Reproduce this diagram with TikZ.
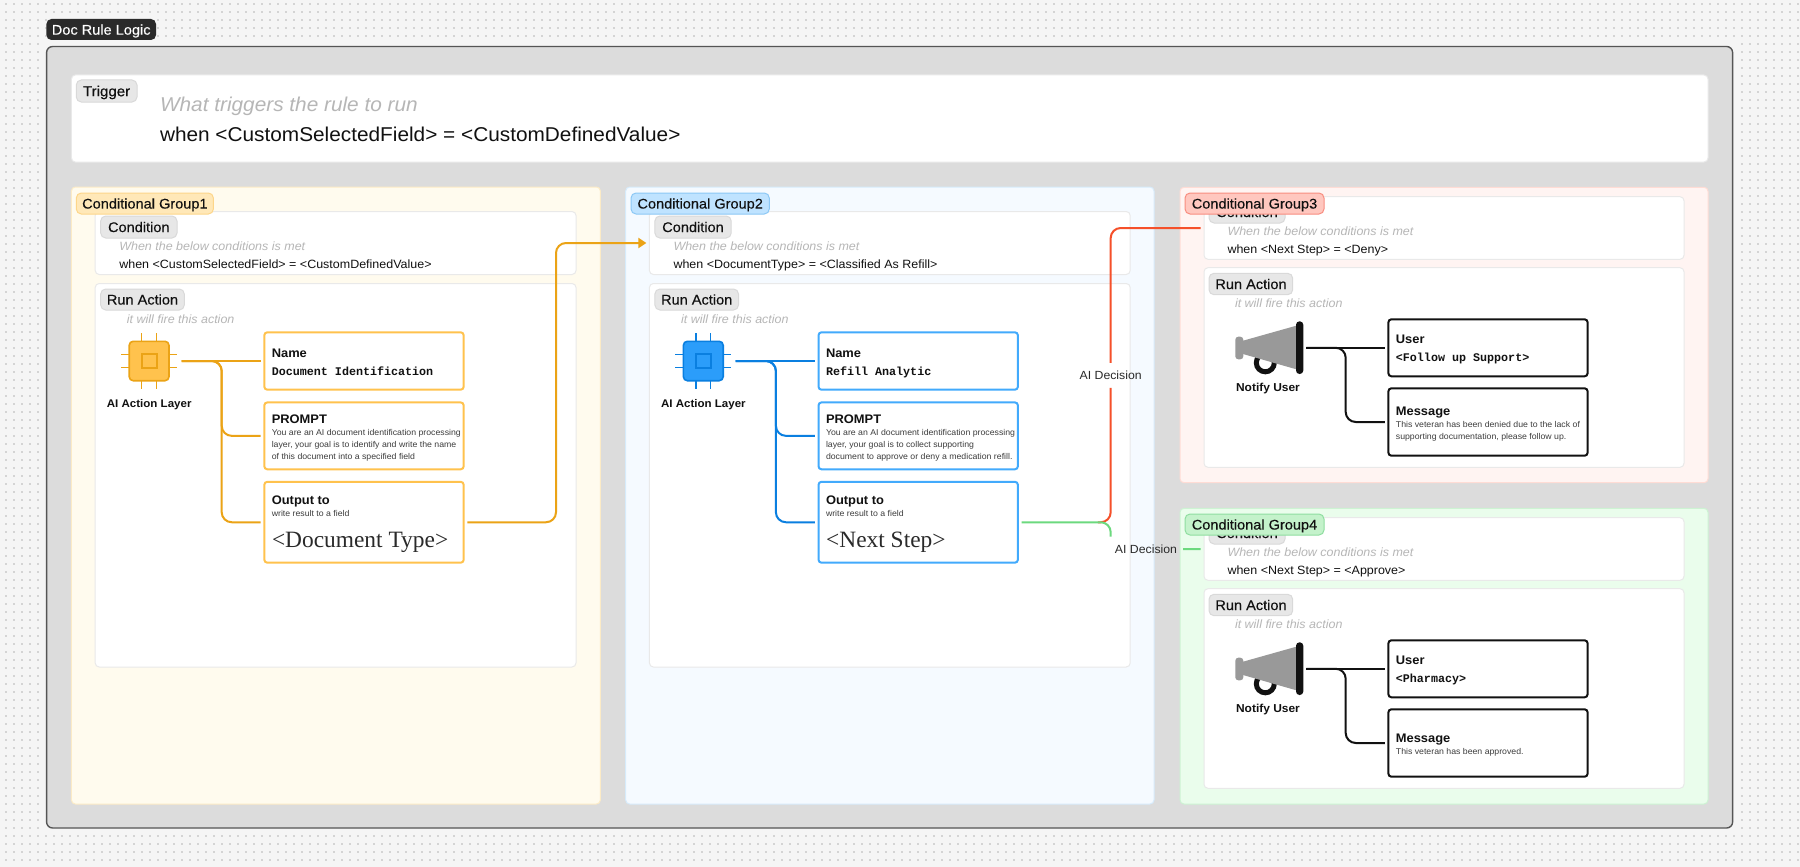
\documentclass[tikz,border=0pt]{standalone}
\usepackage{fontspec}
\setmainfont[FakeStretch=1.04]{Liberation Sans}
\setmonofont{Liberation Mono}
\newfontfamily\noteserif{Liberation Serif}
\newfontfamily\medfont[FakeStretch=1.04,FakeBold=0.3]{Liberation Sans}
\usetikzlibrary{arrows.meta,calc}
\definecolor{paper}{HTML}{F5F5F5}
\definecolor{dotc}{HTML}{D4D4D4}
\definecolor{frameg}{HTML}{DCDCDC}
\definecolor{frameline}{HTML}{555555}
\definecolor{softline}{HTML}{E9E9E9}
\definecolor{tagfill}{HTML}{E7E7E7}
\definecolor{tagline}{HTML}{D9D9D9}
\definecolor{hint}{HTML}{B6B6B6}
\definecolor{ink}{HTML}{111111}
\definecolor{dark}{HTML}{2A2A2A}
\definecolor{bodyt}{HTML}{3C3C3C}
\definecolor{yfill}{HTML}{FFFBEE}\definecolor{yline}{HTML}{FCEBC6}\definecolor{ytag}{HTML}{FFE8B8}\definecolor{ytagl}{HTML}{FDD68A}
\definecolor{yconn}{HTML}{EBA316}\definecolor{ybody}{HTML}{FFC24D}
\definecolor{bfill}{HTML}{F5FAFF}\definecolor{bline}{HTML}{D6EBFB}\definecolor{btag}{HTML}{BFE3FF}\definecolor{btagl}{HTML}{8CC8F5}
\definecolor{bconn}{HTML}{0A7FE0}\definecolor{bbody}{HTML}{2B9DFA}\definecolor{bbox}{HTML}{42AAFC}
\definecolor{rfill}{HTML}{FFF4F2}\definecolor{rline}{HTML}{FFDCD5}\definecolor{rtag}{HTML}{FFC7BF}\definecolor{rtagl}{HTML}{F88D80}\definecolor{rconn}{HTML}{F5502A}
\definecolor{gfill}{HTML}{EAFDEC}\definecolor{gline}{HTML}{CDF3D3}\definecolor{gtag}{HTML}{C4F2CB}\definecolor{gtagl}{HTML}{8FDEA0}\definecolor{gconn}{HTML}{6CD97E}
\definecolor{cone}{HTML}{999999}
\tikzset{
 x=1pt,y=-1pt,
 every node/.style={inner sep=0pt,outer sep=0pt,text=ink},
 panel/.style={rounded corners=4pt,draw=softline,fill=white,line width=1pt},
 grouppanel/.style={rounded corners=4pt,line width=1pt},
 labeltag/.style={rounded corners=5pt,draw=tagline,fill=tagfill,line width=1pt},
 grouptag/.style={rounded corners=5pt,line width=1pt},
 fieldbox/.style={rounded corners=3pt,fill=white,line width=2pt},
 conn/.style={line width=2pt,rounded corners=10pt},
 md/.style={font=\fontsize{#1}{#1}\medfont},
}
% box: style, name, x1,y1,x2,y2
\newcommand\bx[6]{\node[#1,minimum width={((#5)-(#3))*1pt},minimum height={((#6)-(#4))*1pt},anchor=north west] (#2) at ({#3},{#4}) {};}
% text centred vertically on y: y,name,x,size,options,text
\newcommand\tx[6]{\node[anchor=west,text height={0.72*#4 pt},text depth=0pt,font=\fontsize{#4}{#4}\selectfont,#5] (#2) at ({#3},{#1}) {#6};}
\newcommand\txc[6]{\node[anchor=center,text height={0.72*#4 pt},text depth=0pt,font=\fontsize{#4}{#4}\selectfont,#5] (#2) at ({#3},{#1}) {#6};}
\begin{document}
\begin{tikzpicture}
\useasboundingbox (0,0) rectangle (1800,867);
\fill[paper] (0,0) rectangle (1800,867);
% dot grid around the frame
\foreach \i in {0,...,224}{\foreach \j in {0,1,2,3,4}{\fill[dotc] ({6+8*\i-.8},{4+8*\j-.8}) rectangle +(1.6,1.6);}}
\foreach \i in {0,...,224}{\foreach \j in {0,...,3}{\fill[dotc] ({6+8*\i-.8},{836+8*\j-.8}) rectangle +(1.6,1.6);}}
\foreach \i in {0,...,4}{\foreach \j in {5,...,103}{\fill[dotc] ({6+8*\i-.8},{4+8*\j-.8}) rectangle +(1.6,1.6);}}
\foreach \i in {217,...,224}{\foreach \j in {5,...,103}{\fill[dotc] ({6+8*\i-.8},{4+8*\j-.8}) rectangle +(1.6,1.6);}}
% title and frame
\bx{fill=dark,rounded corners=5pt}{title}{46.4}{19}{156}{40}
\txc{29.6}{titlet}{101.2}{14}{text=white,md=14}{Doc Rule Logic}
\bx{fill=frameg,draw=frameline,line width=1.4pt,rounded corners=6pt}{frame}{46.6}{46.5}{1732.6}{828}
% trigger
\bx{panel}{trig}{71.4}{75}{1708}{162}
\bx{labeltag}{trigtag}{76.3}{80}{137}{102}
\txc{91}{trigt}{106.6}{14.5}{md=14.5}{Trigger}
\tx{104}{trighint}{160}{20}{text=hint,font=\fontsize{20}{20}\selectfont\itshape}{What triggers the rule to run}
\tx{134}{trigwhen}{160}{20}{}{when <CustomSelectedField> = <CustomDefinedValue>}
% ---- group panels
\bx{grouppanel,fill=yfill,draw=yline}{ga}{71.4}{187}{600.4}{804}
\bx{grouppanel,fill=bfill,draw=bline}{gb}{625.7}{187}{1154}{804}
\bx{grouppanel,fill=rfill,draw=rline}{gc}{1180}{187.3}{1708}{482.7}
\bx{grouppanel,fill=gfill,draw=gline}{gd}{1180}{508.3}{1708}{804}
% ---- action groups
\foreach \S/\dx/\cc/\bb/\fb/\whent/\namet/\pa/\pb/\pc/\outt in {
 a/0/yconn/ybody/ybody/{when <CustomSelectedField> = <CustomDefinedValue>}/Document Identification/You are an AI document identification processing/{layer, your goal is to identify and write the name}/of this document into a specified field/<Document Type>,
 b/554.2/bconn/bbody/bbox/{when <DocumentType> = <Classified As Refill>}/Refill Analytic/You are an AI document identification processing/{layer, your goal is to collect supporting}/document to approve or deny a medication refill./<Next Step>}{
 \bx{panel}{cond\S}{95.2+\dx}{211.5}{576+\dx}{274.5}
 \bx{labeltag}{condtag\S}{100.7+\dx}{216}{177+\dx}{238}
 \txc{227}{condt\S}{138.8+\dx}{14}{md=14}{Condition}
 \tx{246}{condh\S}{119.3+\dx}{12}{text=hint,font=\fontsize{12}{12}\selectfont\itshape}{When the below conditions is met}
 \tx{264}{condw\S}{119.3+\dx}{12}{}{\whent}
 \bx{panel}{run\S}{95.2+\dx}{283.5}{576+\dx}{667}
 \bx{labeltag}{runtag\S}{100.7+\dx}{289}{184.3+\dx}{310}
 \txc{299.5}{runt\S}{142.5+\dx}{14}{md=14}{Run Action}
 \tx{319}{runh\S}{126.9+\dx}{12}{text=hint,font=\fontsize{12}{12}\selectfont\itshape}{it will fire this action}
 % chip
 \foreach \px in {141.7,156.3}{\draw[\cc,line width=1.5pt] ({\px+\dx},333.3) -- ({\px+\dx},389);}
 \foreach \py in {354.5,367.5}{\draw[\cc,line width=1.5pt] ({121+\dx},\py) -- ({177+\dx},\py);}
 \bx{fill=\bb,draw=\cc,line width=1.6pt,rounded corners=4pt}{chip\S}{129.2+\dx}{341.3}{169+\dx}{380.7}
 \bx{draw=\cc,line width=2pt}{core\S}{142+\dx}{353.6}{156.6+\dx}{368.4}
 \txc{403.7}{chipt\S}{149.2+\dx}{11.1}{font=\fontsize{11.1}{11.1}\selectfont\bfseries}{AI Action Layer}
 % fields
 \bx{fieldbox,draw=\fb}{fname\S}{264.3+\dx}{332.3}{463.7+\dx}{389.7}
 \tx{352.7}{fnamea\S}{271.8+\dx}{12.4}{font=\fontsize{12.4}{12.4}\selectfont\bfseries}{Name}
 \tx{371}{fnameb\S}{271.8+\dx}{11.7}{font=\fontsize{11.7}{11.7}\ttfamily\bfseries}{\namet}
 \bx{fieldbox,draw=\fb}{fprompt\S}{264.3+\dx}{402.4}{463.7+\dx}{469.3}
 \tx{418.7}{fpa\S}{271.8+\dx}{12.4}{font=\fontsize{12.4}{12.4}\selectfont\bfseries}{PROMPT}
 \node[anchor=north west,align=left,text=bodyt,font=\fontsize{8.4}{12}\selectfont] (fpb\S) at ({271.8+\dx},429.4) {\pa\\\pb\\\pc};
 \bx{fieldbox,draw=\fb}{fout\S}{264.3+\dx}{481.8}{463.7+\dx}{562.7}
 \tx{499.7}{foa\S}{271.8+\dx}{12.4}{font=\fontsize{12.4}{12.4}\selectfont\bfseries}{Output to}
 \tx{513}{fob\S}{271.8+\dx}{8.4}{text=bodyt}{write result to a field}
 \tx{539}{foc\S}{272+\dx}{23.4}{text=dark,font=\fontsize{23.4}{23.4}\noteserif}{\outt}
 % tree
 \coordinate (bus\S) at ($(chip\S.east)+(52.7,0)$);
 \draw[conn,\cc,shorten <=12.5pt,shorten >=3.6pt] (chip\S.east) -- (fname\S.west);
 \draw[conn,\cc,shorten <=12.5pt,shorten >=3.6pt] (chip\S.east) -- (bus\S) |- (fprompt\S.west);
 \draw[conn,\cc,shorten <=12.5pt,shorten >=3.6pt] (chip\S.east) -- (bus\S) |- (fout\S.west);
}
% ---- notify groups
\foreach \S/\dy/\whent/\usert/\my/\mtext in {
 c/0/{when <Next Step> = <Deny>}/<Follow up Support>/421/{This veteran has been denied due to the lack of\\supporting documentation, please follow up.},
 d/321/{when <Next Step> = <Approve>}/<Pharmacy>/427.4/{This veteran has been approved.}}{
 \bx{panel}{cond\S}{1204}{196.7+\dy}{1684}{259.3+\dy}
 \bx{labeltag}{condtag\S}{1209}{201.5+\dy}{1285}{223+\dy}
 \txc{212+\dy}{condt\S}{1247}{14}{md=14}{Condition}
 \tx{231+\dy}{condh\S}{1227.5}{12}{text=hint,font=\fontsize{12}{12}\selectfont\itshape}{When the below conditions is met}
 \tx{249+\dy}{condw\S}{1227.5}{12}{}{\whent}
 \bx{panel}{run\S}{1204}{267.7+\dy}{1684}{467.3+\dy}
 \bx{labeltag}{runtag\S}{1209}{273.3+\dy}{1292.7}{294.7+\dy}
 \txc{284+\dy}{runt\S}{1251}{14}{md=14}{Run Action}
 \tx{303.3+\dy}{runh\S}{1235}{12}{text=hint,font=\fontsize{12}{12}\selectfont\itshape}{it will fire this action}
 % megaphone
 \node[minimum width=68pt,minimum height=53pt,anchor=north west] (mega\S) at (1235.3,{321.3+\dy}) {};
 \draw[ink,line width=5pt] (1265.3,{362.8+\dy}) circle (9pt);
 \fill[cone] (1243,{340.7+\dy}) -- (1297,{325.5+\dy}) -- (1297,{369.5+\dy}) -- (1243,{354+\dy}) -- cycle;
 \fill[cone,rounded corners=3pt] (1235.3,{336.7+\dy}) rectangle (1243.3,{359.3+\dy});
 \fill[ink,rounded corners=3.5pt] (1296,{321.3+\dy}) rectangle (1303.3,{374+\dy});
 \txc{387.7+\dy}{megat\S}{1268}{11.5}{font=\fontsize{11.5}{11.5}\selectfont\bfseries}{Notify User}
 % fields
 \bx{fieldbox,draw=ink}{fuser\S}{1388.4}{319.3+\dy}{1587.6}{376.3+\dy}
 \tx{339.3+\dy}{fua\S}{1395.9}{12.4}{font=\fontsize{12.4}{12.4}\selectfont\bfseries}{User}
 \tx{357.7+\dy}{fub\S}{1395.9}{11.7}{font=\fontsize{11.7}{11.7}\ttfamily\bfseries}{\usert}
 \bx{fieldbox,draw=ink}{fmsg\S}{1388.4}{388.3+\dy}{1587.6}{455.7+\dy}
 \tx{\my-10+\dy}{fma\S}{1395.9}{12.4}{font=\fontsize{12.4}{12.4}\selectfont\bfseries}{Message}
 \node[anchor=north west,align=left,text=bodyt,font=\fontsize{8.4}{12}\selectfont] (fmb\S) at (1395.9,{\my+\dy}) {\mtext};
 \coordinate (bus\S) at ($(mega\S.east)+(42.4,0)$);
 \draw[conn,ink,shorten <=3pt,shorten >=3.6pt] (mega\S.east) -- (fuser\S.west);
 \draw[conn,ink,shorten <=3pt,shorten >=3.6pt] (mega\S.east) -- (bus\S) |- (fmsg\S.west);
}
% ---- cross-group connectors
\coordinate (elbowy) at (556,243);
\draw[conn,yconn,-{Triangle[length=8pt,width=10pt]},shorten <=3.6pt,shorten >=3pt] (fouta.east) -| (elbowy) -- (condb.west);
\txc{375.3}{aired}{1110.7}{11.8}{text=dark,minimum height=25pt}{AI Decision}
\txc{549.3}{aigreen}{1146}{11.8}{text=dark}{AI Decision}
\coordinate (greenend) at (1110.7,536.7);
\draw[conn,rconn,shorten <=80pt] (foutb.east) -| (aired.south);
\draw[conn,rconn,shorten >=3.5pt] (aired.north) |- (condc.west);
\draw[conn,gconn,shorten <=3.6pt] (foutb.east) -| (greenend);
\draw[conn,gconn,shorten <=6pt,shorten >=3.5pt] (aigreen.east) -- (condd.west);
% ---- group tags on top
\bx{grouptag,fill=ytag,draw=ytagl}{taga}{76.3}{193}{213.4}{214}
\txc{203.5}{tagat}{144.9}{14}{md=14}{Conditional Group1}
\bx{grouptag,fill=btag,draw=btagl}{tagb}{631}{193}{769.3}{214}
\txc{203.5}{tagbt}{700.2}{14}{md=14}{Conditional Group2}
\bx{grouptag,fill=rtag,draw=rtagl}{tagc}{1185}{193}{1324}{214}
\txc{203.5}{tagct}{1254.5}{14}{md=14}{Conditional Group3}
\bx{grouptag,fill=gtag,draw=gtagl}{tagd}{1185}{514}{1324}{535}
\txc{524.5}{tagdt}{1254.5}{14}{md=14}{Conditional Group4}
\end{tikzpicture}
\end{document}
